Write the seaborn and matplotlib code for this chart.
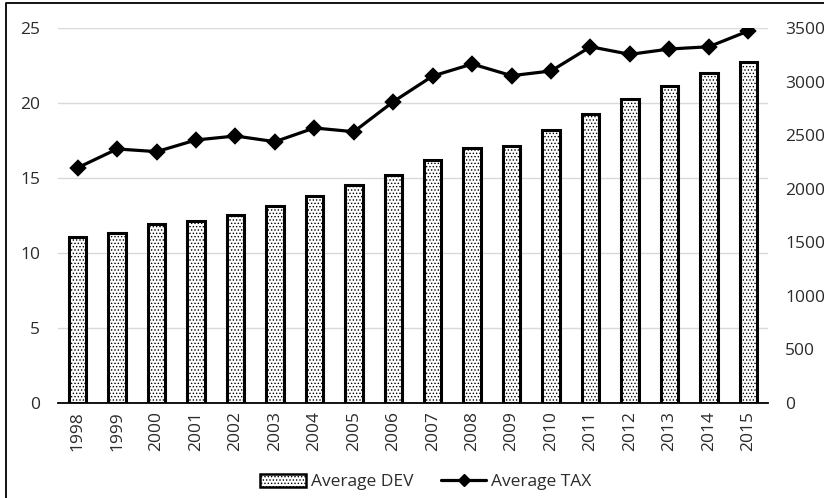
import numpy as np
import matplotlib
matplotlib.use("Agg")
import matplotlib.pyplot as plt
from matplotlib.patches import Patch
from matplotlib.lines import Line2D
import seaborn as sns

# Yearly averages
years = ["1998", "1999", "2000", "2001", "2002", "2003", "2004", "2005", "2006",
         "2007", "2008", "2009", "2010", "2011", "2012", "2013", "2014", "2015"]
avg_dev = [11.05, 11.35, 11.9, 12.1, 12.5, 13.1, 13.8, 14.5, 15.2,
           16.2, 17.0, 17.15, 18.2, 19.25, 20.25, 21.1, 22.0, 22.7]
avg_tax = [2196, 2371, 2346, 2455, 2492, 2439, 2567, 2532, 2812,
           3052, 3164, 3055, 3099, 3325, 3254, 3304, 3325, 3472]

left_ticks = [0, 5, 10, 15, 20, 25]
right_ticks = [0, 500, 1000, 1500, 2000, 2500, 3000, 3500]

sns.set_theme(style="white")
plt.rcParams["font.family"] = ["Open Sans", "DejaVu Sans"]
plt.rcParams["hatch.linewidth"] = 0.6

text_color = "#2b2b2b"
fs = 12.5

fig = plt.figure(figsize=(8.24, 4.98), dpi=100)
ax = fig.add_axes([58 / 824, 95 / 498, 710 / 824, 375 / 498])

sns.barplot(x=years, y=avg_dev, ax=ax, color="white", edgecolor="black",
            linewidth=2.2, width=0.44, hatch=".....", saturation=1, zorder=2)

ax.set_ylim(0, 25)
ax.set_yticks(left_ticks)
ax.set_xlim(-0.5, len(years) - 0.5)
ax.yaxis.grid(True, color="#d9d9d9", linewidth=1.0)
ax.set_axisbelow(True)
for s in ["left", "right", "top"]:
    ax.spines[s].set_visible(False)
ax.spines["bottom"].set_color("black")
ax.spines["bottom"].set_linewidth(1.3)
ax.tick_params(axis="x", length=0, pad=6, labelsize=fs, labelcolor=text_color,
               rotation=90)
ax.tick_params(axis="y", length=0, pad=13, labelsize=fs, labelcolor=text_color)
ax.set_xlabel("")
ax.set_ylabel("")

ax2 = ax.twinx()
sns.pointplot(x=years, y=avg_tax, ax=ax2, color="black", marker="D",
              markersize=7.5, linewidth=2.3)
ax2.set_ylim(0, 3500)
ax2.set_yticks(right_ticks)
ax2.set_xlim(-0.5, len(years) - 0.5)
for s in ["left", "right", "top", "bottom"]:
    ax2.spines[s].set_visible(False)
ax2.tick_params(axis="y", length=0, pad=12.5, labelsize=fs, labelcolor=text_color)
for lbl in ax2.get_yticklabels():
    lbl.set_horizontalalignment("left")
ax2.set_xlabel("")
ax2.set_ylabel("")
ax2.grid(False)

handles = [
    Patch(facecolor="white", edgecolor="black", hatch=".....", linewidth=1.8,
          label="Average DEV"),
    Line2D([0], [0], color="black", linewidth=2.3, marker="D", markersize=6,
           label="Average TAX"),
]
fig.legend(handles=handles, loc="center", bbox_to_anchor=(426 / 824, 16 / 498),
           ncol=2, frameon=False, fontsize=fs, handlelength=2.6,
           handleheight=0.8, handletextpad=0.3, columnspacing=1.6,
           labelcolor=text_color)

# Outer frame (left and top edges)
fig.add_artist(Line2D([6 / 824, 6 / 824, 1.0], [0.0, 1 - 3 / 498, 1 - 3 / 498],
                      transform=fig.transFigure, color="black", linewidth=1.3))

fig.savefig("out.png", dpi=100)
